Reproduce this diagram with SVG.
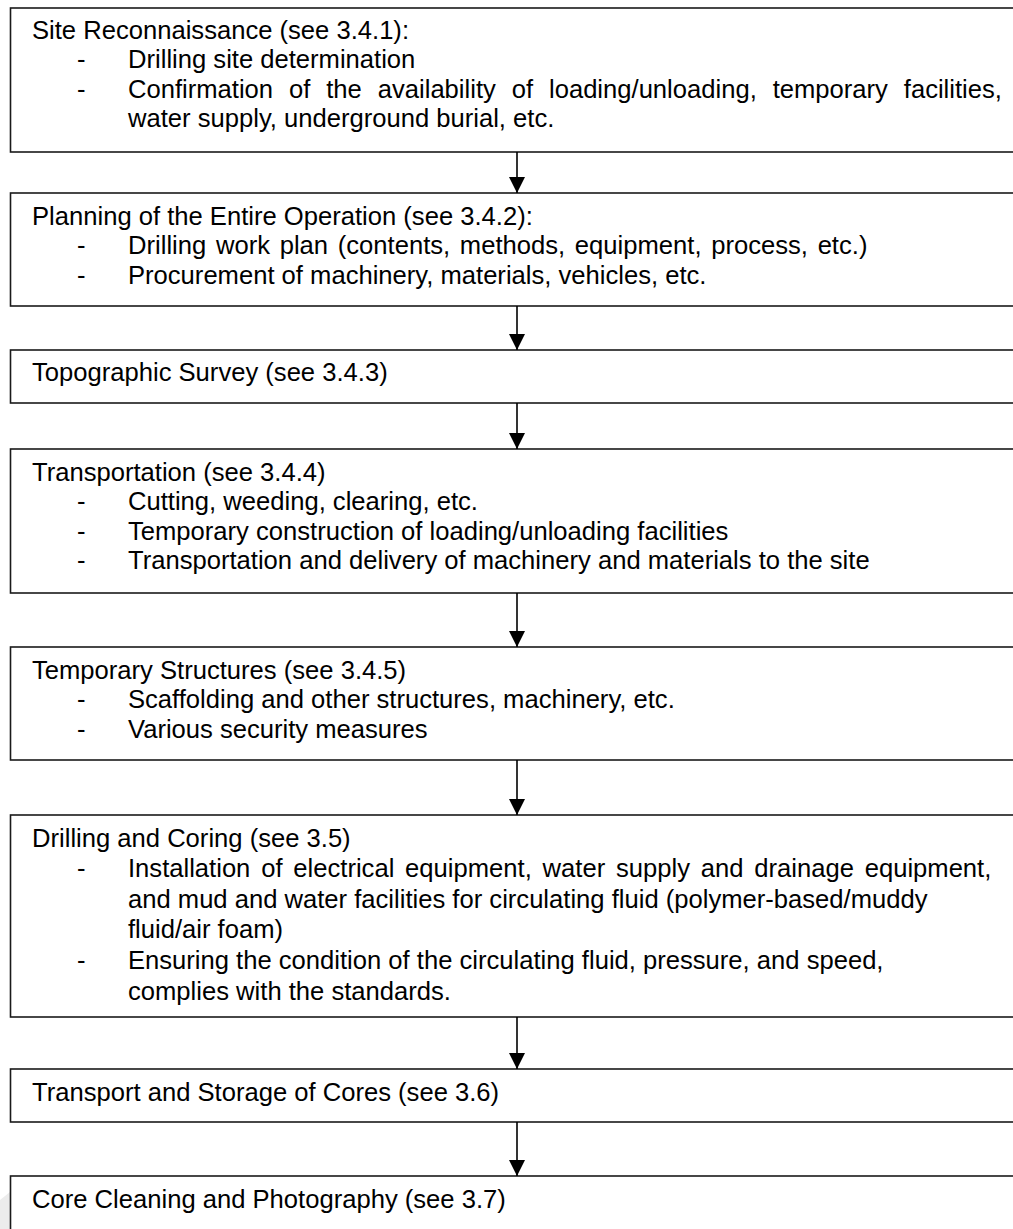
<svg xmlns="http://www.w3.org/2000/svg" width="1013" height="1229" viewBox="0 0 1013 1229">
<defs>
<style>
.box{fill:#fff;stroke:#1a1a1a;stroke-width:1.6}
.t{font-family:"Liberation Sans",Arial,sans-serif;font-size:25.6px;fill:#000}
.conn line{stroke:#000;stroke-width:1.6}
</style>
<marker id="ah" markerUnits="userSpaceOnUse" markerWidth="16" markerHeight="16" refX="16" refY="8" orient="auto" viewBox="0 0 16 16">
<path d="M0,0 L16,8 L0,16 z" fill="#000"/>
</marker>
</defs>
<rect width="1013" height="1229" fill="#fff"/>
<polygon points="0,1200 10,1192 10,1229 0,1229" fill="#ececec"/>
<g id="n1">
<rect class="box" x="10.5" y="8" width="1030" height="144"/>
<text class="t" x="32" y="39">Site Reconnaissance (see 3.4.1):</text>
<text class="t" x="77" y="68.4">-</text>
<text class="t" x="128" y="68.4">Drilling site determination</text>
<text class="t" x="77" y="97.8">-</text>
<text class="t" x="128" y="97.8" word-spacing="8.8">Confirmation of the availability of loading/unloading, temporary facilities,</text>
<text class="t" x="128" y="127.2">water supply, underground burial, etc.</text>
</g>
<g id="n2">
<rect class="box" x="10.5" y="193" width="1030" height="113"/>
<text class="t" x="32" y="225">Planning of the Entire Operation (see 3.4.2):</text>
<text class="t" x="77" y="254.4">-</text>
<text class="t" x="128" y="254.4" word-spacing="2.6">Drilling work plan (contents, methods, equipment, process, etc.)</text>
<text class="t" x="77" y="283.8">-</text>
<text class="t" x="128" y="283.8">Procurement of machinery, materials, vehicles, etc.</text>
</g>
<g id="n3">
<rect class="box" x="10.5" y="350" width="1030" height="53"/>
<text class="t" x="32" y="381">Topographic Survey (see 3.4.3)</text>
</g>
<g id="n4">
<rect class="box" x="10.5" y="449" width="1030" height="144"/>
<text class="t" x="32" y="481">Transportation (see 3.4.4)</text>
<text class="t" x="77" y="510.4">-</text>
<text class="t" x="128" y="510.4">Cutting, weeding, clearing, etc.</text>
<text class="t" x="77" y="539.8">-</text>
<text class="t" x="128" y="539.8">Temporary construction of loading/unloading facilities</text>
<text class="t" x="77" y="569.2">-</text>
<text class="t" x="128" y="569.2">Transportation and delivery of machinery and materials to the site</text>
</g>
<g id="n5">
<rect class="box" x="10.5" y="647" width="1030" height="113"/>
<text class="t" x="32" y="679">Temporary Structures (see 3.4.5)</text>
<text class="t" x="77" y="708.4">-</text>
<text class="t" x="128" y="708.4">Scaffolding and other structures, machinery, etc.</text>
<text class="t" x="77" y="737.8">-</text>
<text class="t" x="128" y="737.8">Various security measures</text>
</g>
<g id="n6">
<rect class="box" x="10.5" y="815" width="1030" height="202"/>
<text class="t" x="32" y="847">Drilling and Coring (see 3.5)</text>
<text class="t" x="77" y="877.4">-</text>
<text class="t" x="128" y="877.4" word-spacing="3.7">Installation of electrical equipment, water supply and drainage equipment,</text>
<text class="t" x="128" y="907.8">and mud and water facilities for circulating fluid (polymer-based/muddy</text>
<text class="t" x="128" y="938.2">fluid/air foam)</text>
<text class="t" x="77" y="968.6">-</text>
<text class="t" x="128" y="968.6">Ensuring the condition of the circulating fluid, pressure, and speed,</text>
<text class="t" x="128" y="1000">complies with the standards.</text>
</g>
<g id="n7">
<rect class="box" x="10.5" y="1069" width="1030" height="53"/>
<text class="t" x="32" y="1101">Transport and Storage of Cores (see 3.6)</text>
</g>
<g id="n8">
<rect class="box" x="10.5" y="1176" width="1030" height="100"/>
<text class="t" x="32" y="1208">Core Cleaning and Photography (see 3.7)</text>
</g>
<g id="connectors" class="conn">
<line x1="517" y1="152" x2="517" y2="193" marker-end="url(#ah)"/>
<line x1="517" y1="306" x2="517" y2="350" marker-end="url(#ah)"/>
<line x1="517" y1="403" x2="517" y2="449" marker-end="url(#ah)"/>
<line x1="517" y1="593" x2="517" y2="647" marker-end="url(#ah)"/>
<line x1="517" y1="760" x2="517" y2="815" marker-end="url(#ah)"/>
<line x1="517" y1="1017" x2="517" y2="1069" marker-end="url(#ah)"/>
<line x1="517" y1="1122" x2="517" y2="1176" marker-end="url(#ah)"/>
</g>
</svg>
